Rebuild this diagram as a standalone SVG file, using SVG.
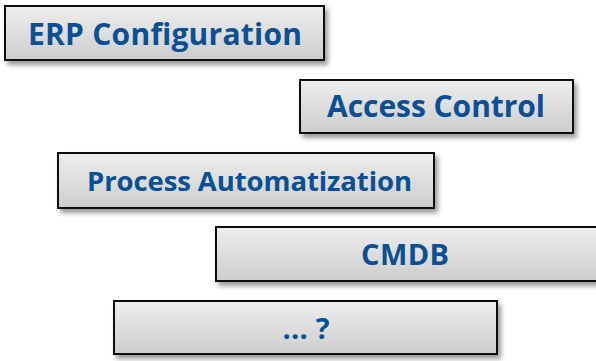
<svg xmlns="http://www.w3.org/2000/svg" width="596" height="361" viewBox="0 0 596 361">
  <defs>
    <linearGradient id="boxFill" x1="0" y1="0" x2="0" y2="1">
      <stop offset="0" stop-color="#eeeeee"/>
      <stop offset="1" stop-color="#cdcdcd"/>
    </linearGradient>
    <filter id="shadow" x="-10%" y="-20%" width="130%" height="160%">
      <feGaussianBlur in="SourceAlpha" stdDeviation="2.5"/>
      <feOffset dx="3" dy="4" result="blur"/>
      <feComponentTransfer><feFuncA type="linear" slope="0.4"/></feComponentTransfer>
      <feMerge><feMergeNode/><feMergeNode in="SourceGraphic"/></feMerge>
    </filter>
  </defs>
  <style>
    .box { fill: url(#boxFill); stroke: #111; stroke-width: 2; filter: url(#shadow); }
    .label { font-family: "Open Sans", "Noto Sans", sans-serif; font-weight: bold; font-size: 29px; fill: #0b4f95; text-anchor: middle; }
  </style>
  <rect width="596" height="361" fill="#ffffff"/>

  <g id="erp-configuration">
    <rect class="box" x="5" y="6" width="319" height="54"/>
    <text class="label" x="165" y="45" style="font-size:30px" textLength="274">ERP Configuration</text>
  </g>

  <g id="access-control">
    <rect class="box" x="300" y="80" width="273" height="53"/>
    <text class="label" x="436" y="117" style="font-size:30px" textLength="218">Access Control</text>
  </g>

  <g id="process-automatization">
    <rect class="box" x="58" y="153" width="376" height="55"/>
    <text class="label" x="249.5" y="191" style="font-size:27.5px" textLength="325">Process Automatization</text>
  </g>

  <g id="cmdb">
    <rect class="box" x="216" y="227" width="390" height="54"/>
    <text class="label" x="405" y="265" textLength="88">CMDB</text>
  </g>

  <g id="more">
    <rect class="box" x="114" y="301" width="383" height="53"/>
    <text class="label" x="306" y="339" textLength="47">... ?</text>
  </g>

  <g id="connectors"/>
</svg>
